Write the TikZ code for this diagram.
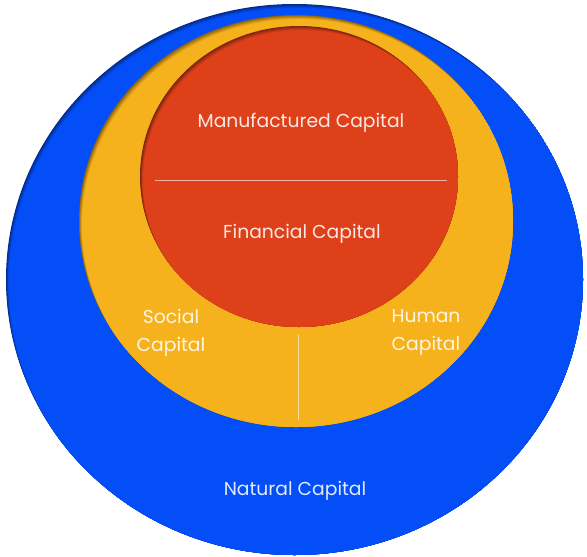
\documentclass[tikz,border=0pt]{standalone}
\usepackage{fontspec}
\newfontfamily\capfont{Poppins}

\definecolor{natblue}{RGB}{4,78,248}
\definecolor{socyellow}{RGB}{246,178,28}
\definecolor{manred}{RGB}{222,64,26}

% disc with a soft shadow on its upper left rim
\newcommand{\capdisc}[5]{%
	\fill[#5!55!black]	(#1,#2) ellipse [x radius=#3, y radius=#4];
	\begin{scope}
		\clip (#1,#2) ellipse [x radius=#3, y radius=#4];
		\foreach \k/\mix in {1/63,2/71,3/79,4/87,5/94,6/100}
			\fill[#5!\mix!black]	(#1+0.5*\k,#2+0.7*\k) ellipse [x radius=#3, y radius=#4];
	\end{scope}}

\begin{document}
\begin{tikzpicture}[
		x=0.03cm, y=-0.03cm,
		lbl/.style = {text=white, text opacity=0.88, font=\capfont\fontsize{16}{24}\selectfont, inner sep=0pt},
		sep/.style = {draw=white, draw opacity=0.6, line width=0.8pt}
		]
		\useasboundingbox (0,0) rectangle (587,556);
		
		% === === Discs === ===
		\capdisc{294.5}{279.5}{288.5}{275.5}{natblue}
		\capdisc{296}{221}{217}{206}{socyellow}
		\capdisc{299}{176.5}{159}{150.5}{manred}
		
		% === === Nodes === ===
		\node[lbl, anchor=base]		(manu)	at	(301, 127)		{Manufactured Capital};
		\node[lbl, anchor=base]		(fin)	at	(302, 238)		{Financial Capital};
		\node[lbl, align=center]	(soc)	at	(171, 333)		{Social\\Capital};
		\node[lbl, align=center]	(hum)	at	(426, 332)		{Human\\Capital};
		\node[lbl, anchor=base]		(nat)	at	(295, 495)		{Natural Capital};
		
		\coordinate	(fin-l)	at	(155, 180);
		\coordinate	(fin-r)	at	(447, 180);
		\coordinate	(soc-t)	at	(298, 335);
		\coordinate	(soc-b)	at	(298, 420);
		
		% === === Lines === ===
		\draw[sep]	(fin-l)	--	(fin-r);
		\draw[sep]	(soc-t)	--	(soc-b);
		
	\end{tikzpicture}
\end{document}
